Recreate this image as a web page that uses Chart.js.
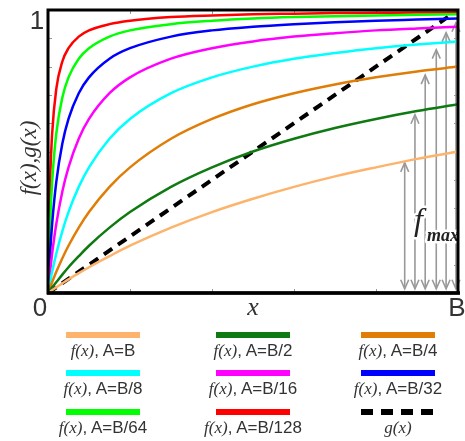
<!DOCTYPE html>
<html>
<head>
<meta charset="utf-8">
<script src="https://cdn.jsdelivr.net/npm/chart.js@4"></script>
<style>
  html, body { margin: 0; padding: 0; background: #fff; }
  #wrap { position: relative; width: 465px; height: 441px; }
  #legend { position: absolute; left: 0; top: 0; width: 465px; height: 441px; pointer-events: none; }
  .item { position: absolute; width: 150px; text-align: center; }
  .bar { margin: 0 auto; width: 74px; height: 6px; }
  .txt { margin-top: 3px; font-size: 17px; color: #333; font-family: "Liberation Sans", Arial, sans-serif; white-space: nowrap; }
  .txt i { font-family: "Liberation Serif", "Times New Roman", serif; }
</style>
</head>
<body>
<div id="wrap">
  <canvas id="chart" width="465" height="441"></canvas>
  <div id="legend"></div>
</div>
<script>
var xs = [0, 0.005, 0.01, 0.02, 0.035, 0.05, 0.075, 0.1, 0.15, 0.2, 0.3, 0.4, 0.5, 0.6, 0.7, 0.8, 0.9, 1];

// f(x) for each A
var fB     = [0, 0.005, 0.01, 0.02, 0.034, 0.048, 0.07, 0.091, 0.13, 0.167, 0.231, 0.286, 0.333, 0.375, 0.412, 0.444, 0.474, 0.5];
var fB2    = [0, 0.01, 0.02, 0.038, 0.065, 0.091, 0.13, 0.167, 0.231, 0.286, 0.375, 0.444, 0.5, 0.545, 0.583, 0.615, 0.643, 0.667];
var fB4    = [0, 0.02, 0.038, 0.074, 0.123, 0.167, 0.231, 0.286, 0.375, 0.444, 0.545, 0.615, 0.667, 0.706, 0.737, 0.762, 0.783, 0.8];
var fB8    = [0, 0.038, 0.074, 0.138, 0.219, 0.286, 0.375, 0.444, 0.545, 0.615, 0.706, 0.762, 0.8, 0.828, 0.848, 0.865, 0.878, 0.889];
var fB16   = [0, 0.074, 0.138, 0.242, 0.359, 0.444, 0.545, 0.615, 0.706, 0.762, 0.828, 0.865, 0.889, 0.906, 0.918, 0.928, 0.935, 0.941];
var fB32   = [0, 0.138, 0.242, 0.39, 0.528, 0.615, 0.706, 0.762, 0.828, 0.865, 0.906, 0.928, 0.941, 0.95, 0.957, 0.962, 0.966, 0.97];
var fB64   = [0, 0.242, 0.39, 0.561, 0.691, 0.762, 0.828, 0.865, 0.906, 0.928, 0.95, 0.962, 0.97, 0.975, 0.978, 0.981, 0.983, 0.985];
var fB128  = [0, 0.39, 0.561, 0.719, 0.818, 0.865, 0.906, 0.928, 0.95, 0.962, 0.975, 0.981, 0.985, 0.987, 0.989, 0.99, 0.991, 0.992];

// g(x) straight dashed line
var gXs = [0, 1];
var gYs = [0, 1];

var seriesLabels = ['A=B', 'A=B/2', 'A=B/4', 'A=B/8', 'A=B/16', 'A=B/32', 'A=B/64', 'A=B/128'];
var seriesValues = [fB, fB2, fB4, fB8, fB16, fB32, fB64, fB128];
var seriesColors = ['#fdb36b', '#0f7a12', '#df7d07', '#00ffff', '#ff00ff', '#0000ff', '#00ff00', '#ff0000'];

// f_max arrows: x position and the curve value they point to
var arrowX   = [0.87, 0.895, 0.92, 0.947, 0.971, 0.995];
var arrowTop = [0.46, 0.63, 0.77, 0.86, 0.92, 0.955];
var arrowBottom = 0.015;

var xTicks = [0.2, 0.4, 0.6, 0.8];
var yTicks = [0.1, 0.2, 0.3, 0.4, 0.5, 0.6, 0.7, 0.8, 0.9];

var datasets = seriesValues.map(function (vals, i) {
  return {
    label: 'f(x), ' + seriesLabels[i],
    data: xs.map(function (x, j) { return { x: x, y: vals[j] }; }),
    borderColor: seriesColors[i],
    borderWidth: 2.5,
    pointRadius: 0,
    fill: false,
    cubicInterpolationMode: 'monotone'
  };
});
datasets.push({
  label: 'g(x)',
  data: gXs.map(function (x, j) { return { x: x, y: gYs[j] }; }),
  borderColor: '#000',
  borderWidth: 4,
  borderDash: [10, 7],
  pointRadius: 0,
  fill: false
});

function arrowHead(ctx, x, y, dir) {
  ctx.beginPath();
  ctx.moveTo(x - 4, y + dir * 9);
  ctx.lineTo(x, y);
  ctx.lineTo(x + 4, y + dir * 9);
  ctx.stroke();
}

var decor = {
  id: 'decor',
  beforeDatasetsDraw: function (chart) {
    var ctx = chart.ctx, xs_ = chart.scales.x, ys_ = chart.scales.y, a = chart.chartArea;
    ctx.save();
    // inner ticks
    ctx.strokeStyle = '#999';
    ctx.lineWidth = 1;
    yTicks.forEach(function (t) {
      var py = Math.round(ys_.getPixelForValue(t)) + 0.5;
      ctx.beginPath();
      ctx.moveTo(a.left, py); ctx.lineTo(a.left + 4, py);
      ctx.moveTo(a.right, py); ctx.lineTo(a.right - 4, py);
      ctx.stroke();
    });
    xTicks.forEach(function (t) {
      var px = Math.round(xs_.getPixelForValue(t)) + 0.5;
      ctx.beginPath();
      ctx.moveTo(px, a.bottom); ctx.lineTo(px, a.bottom - 4);
      ctx.moveTo(px, a.top); ctx.lineTo(px, a.top + 4);
      ctx.stroke();
    });
    // f_max arrows
    ctx.strokeStyle = '#999';
    ctx.lineWidth = 1.6;
    arrowX.forEach(function (x, i) {
      var px = xs_.getPixelForValue(x);
      var top = ys_.getPixelForValue(arrowTop[i]);
      var bot = ys_.getPixelForValue(arrowBottom);
      ctx.beginPath();
      ctx.moveTo(px, top); ctx.lineTo(px, bot);
      ctx.stroke();
      arrowHead(ctx, px, top, 1);
      arrowHead(ctx, px, bot, -1);
    });
    // f_max label with white halo
    ctx.fillStyle = '#222';
    ctx.strokeStyle = '#fff';
    ctx.lineWidth = 5;
    ctx.lineJoin = 'round';
    ctx.textBaseline = 'alphabetic';
    ctx.textAlign = 'left';
    ctx.font = 'italic 32px "Liberation Serif", serif';
    ctx.strokeText('f', 414, 230);
    ctx.fillText('f', 414, 230);
    ctx.font = 'italic bold 18px "Liberation Serif", serif';
    ctx.strokeText('max', 427, 241);
    ctx.fillText('max', 427, 241);
    ctx.restore();
  },
  afterDatasetsDraw: function (chart) {
    var ctx = chart.ctx, a = chart.chartArea, xs_ = chart.scales.x, ys_ = chart.scales.y;
    ctx.save();
    // frame
    ctx.strokeStyle = '#000';
    ctx.lineWidth = 3;
    ctx.strokeRect(a.left, a.top, a.right - a.left, a.bottom - a.top);
    ctx.lineWidth = 3.5;
    ctx.beginPath();
    ctx.moveTo(a.left - 1, a.bottom); ctx.lineTo(a.right + 2, a.bottom);
    ctx.stroke();
    // axis labels
    ctx.fillStyle = '#333';
    ctx.textAlign = 'center';
    ctx.textBaseline = 'middle';
    ctx.font = '26px "Liberation Sans", Arial, sans-serif';
    ctx.fillText('0', xs_.getPixelForValue(0) - 8, a.bottom + 16);
    ctx.fillText('B', xs_.getPixelForValue(1) - 1, a.bottom + 16);
    ctx.fillText('1', a.left - 11, ys_.getPixelForValue(1) + 12);
    ctx.font = 'italic 26px "Liberation Serif", serif';
    ctx.fillText('x', xs_.getPixelForValue(0.5), a.bottom + 15);
    ctx.translate(30, 158);
    ctx.rotate(-Math.PI / 2);
    ctx.font = 'italic 23px "Liberation Serif", serif';
    ctx.fillText('f(x),g(x)', 0, 0);
    ctx.restore();
  }
};

new Chart(document.getElementById('chart'), {
  type: 'line',
  data: { datasets: datasets },
  options: {
    responsive: false,
    animation: false,
    layout: { padding: { left: 48, right: 7, top: 10, bottom: 148 } },
    plugins: { legend: { display: false }, tooltip: { enabled: false } },
    scales: {
      x: { type: 'linear', min: 0, max: 1, display: false },
      y: { min: 0, max: 1, display: false }
    }
  },
  plugins: [decor]
});

// legend below the plot, 3 columns x 3 rows
var legend = document.getElementById('legend');
var colCenters = [103, 253, 398];
var rowTops = [332, 370, 409];
datasets.forEach(function (ds, i) {
  var item = document.createElement('div');
  item.className = 'item';
  item.style.left = (colCenters[i % 3] - 75) + 'px';
  item.style.top = rowTops[Math.floor(i / 3)] + 'px';
  var bar = document.createElement('div');
  bar.className = 'bar';
  if (ds.borderDash) {
    bar.style.background = 'repeating-linear-gradient(90deg, #000 0 12px, transparent 12px 20px)';
  } else {
    bar.style.background = ds.borderColor;
  }
  var txt = document.createElement('div');
  txt.className = 'txt';
  if (i < seriesLabels.length) {
    txt.innerHTML = '<i>f(x)</i>, ' + seriesLabels[i];
  } else {
    txt.innerHTML = '<i>g(x)</i>';
  }
  item.appendChild(bar);
  item.appendChild(txt);
  legend.appendChild(item);
});
</script>
</body>
</html>
